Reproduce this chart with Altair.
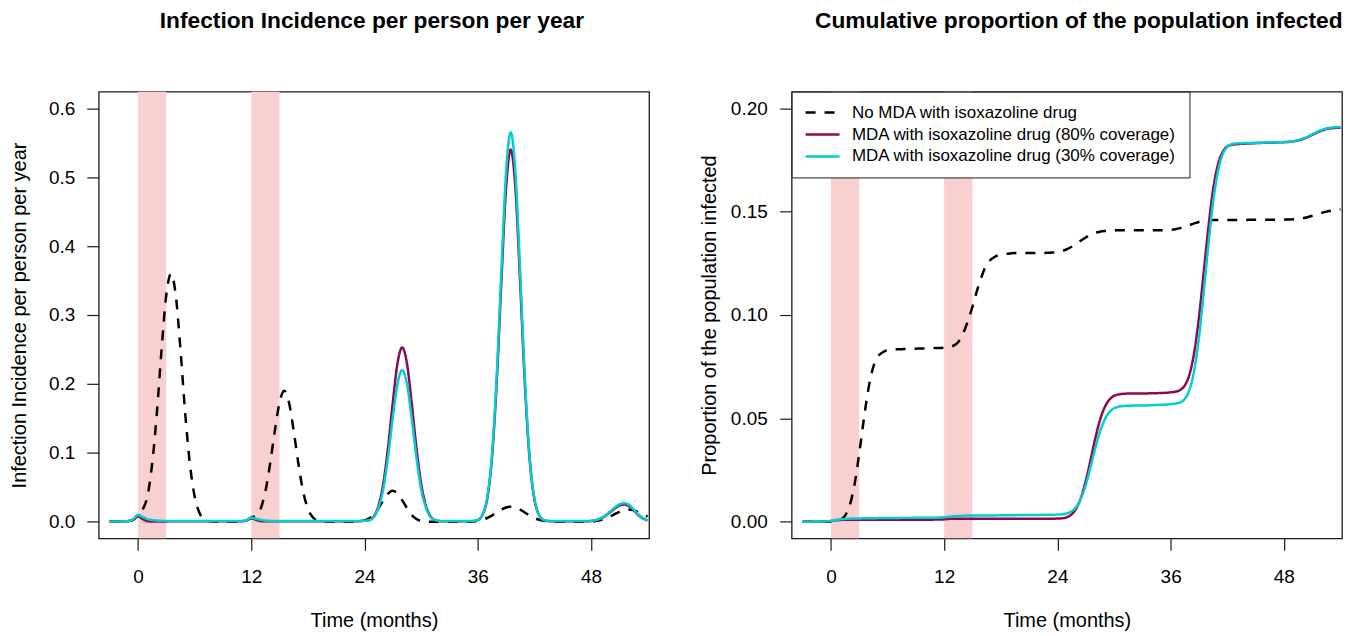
import altair as alt
import pandas as pd

FONT = "Liberation Sans"

# ---------------- data ----------------
months = [
    -3, -2.5, -2, -1.5, -1, -0.5, 0, 0.5, 1, 1.5,
    2, 2.5, 3, 3.5, 4, 4.5, 5, 5.5, 6, 6.5,
    7, 7.5, 8, 8.5, 9, 9.5, 10, 10.5, 11, 11.5,
    12, 12.5, 13, 13.5, 14, 14.5, 15, 15.5, 16, 16.5,
    17, 17.5, 18, 18.5, 19, 19.5, 20, 20.5, 21, 21.5,
    22, 22.5, 23, 23.5, 24, 24.5, 25, 25.5, 26, 26.5,
    27, 27.5, 28, 28.5, 29, 29.5, 30, 30.5, 31, 31.5,
    32, 32.5, 33, 33.5, 34, 34.5, 35, 35.5, 36, 36.5,
    37, 37.5, 38, 38.5, 39, 39.5, 40, 40.5, 41, 41.5,
    42, 42.5, 43, 43.5, 44, 44.5, 45, 45.5, 46, 46.5,
    47, 47.5, 48, 48.5, 49, 49.5, 50, 50.5, 51, 51.5,
    52, 52.5, 53, 53.5, 54,
]

# Infection incidence per person per year
inc_none = [
    0.0005, 0.0005, 0.0005, 0.0007, 0.001, 0.003, 0.01, 0.018, 0.037, 0.084,
    0.158, 0.25, 0.329, 0.36, 0.329, 0.25, 0.158, 0.084, 0.037, 0.0135,
    0.004, 0.001, 0.0003, 0, 0, 0, 0, 0, 0.0003, 0.002,
    0.006, 0.009, 0.019, 0.044, 0.084, 0.132, 0.173, 0.19, 0.173, 0.132,
    0.084, 0.044, 0.019, 0.007, 0.002, 0.0005, 0, 0, 0, 0,
    0, 0, 0.0003, 0.001, 0.002, 0.005, 0.01, 0.02, 0.031, 0.041,
    0.045, 0.041, 0.031, 0.02, 0.01, 0.004, 0.001, 0, 0, 0,
    0, 0, 0, 0, 0, 0, 0.0002, 0.0006, 0.0015, 0.003,
    0.0055, 0.009, 0.0134, 0.0176, 0.0208, 0.022, 0.0208, 0.0176, 0.0134, 0.009,
    0.0055, 0.003, 0.0015, 0.0006, 0.0002, 0, 0, 0, 0, 0,
    0, 0.0002, 0.0005, 0.0012, 0.0024, 0.0045, 0.0074, 0.011, 0.0144, 0.017,
    0.018, 0.017, 0.0144, 0.011, 0.0074,
]
inc_80 = [
    0.0005, 0.0005, 0.0005, 0.0006, 0.001, 0.003, 0.008, 0.004, 0.001, 0.0004,
    0.0004, 0.0005, 0.0006, 0.0007, 0.0008, 0.0008, 0.0008, 0.0008, 0.0008, 0.0008,
    0.0008, 0.0008, 0.0008, 0.0008, 0.0008, 0.0008, 0.0008, 0.0008, 0.0008, 0.002,
    0.005, 0.003, 0.001, 0.0008, 0.0008, 0.0008, 0.0008, 0.0008, 0.0008, 0.0008,
    0.0008, 0.0008, 0.0008, 0.0008, 0.0008, 0.0008, 0.0008, 0.0008, 0.0008, 0.0008,
    0.0008, 0.0008, 0.0008, 0.001, 0.0015, 0.0025, 0.008, 0.024, 0.056, 0.108,
    0.173, 0.23, 0.253, 0.23, 0.173, 0.108, 0.056, 0.024, 0.008, 0.0025,
    0.001, 0.0008, 0.0008, 0.0008, 0.0008, 0.0008, 0.0008, 0.001, 0.0025, 0.01,
    0.033, 0.091, 0.199, 0.346, 0.483, 0.54, 0.483, 0.346, 0.199, 0.091,
    0.033, 0.01, 0.0025, 0.001, 0.0008, 0.0008, 0.0008, 0.0008, 0.0008, 0.0008,
    0.0008, 0.0008, 0.0012, 0.0022, 0.0045, 0.0083, 0.0134, 0.019, 0.0235, 0.025,
    0.023, 0.017, 0.01, 0.005, 0.002,
]
inc_30 = [
    0.0005, 0.0005, 0.0005, 0.0007, 0.0012, 0.004, 0.01, 0.007, 0.004, 0.0025,
    0.0018, 0.0015, 0.0012, 0.001, 0.001, 0.001, 0.001, 0.001, 0.001, 0.001,
    0.001, 0.001, 0.001, 0.001, 0.001, 0.001, 0.001, 0.001, 0.001, 0.0025,
    0.006, 0.0045, 0.003, 0.002, 0.0015, 0.0012, 0.001, 0.001, 0.001, 0.001,
    0.001, 0.001, 0.001, 0.001, 0.001, 0.001, 0.001, 0.001, 0.001, 0.001,
    0.001, 0.001, 0.001, 0.0012, 0.0015, 0.0025, 0.007, 0.021, 0.048, 0.094,
    0.151, 0.2, 0.22, 0.2, 0.151, 0.094, 0.048, 0.021, 0.007, 0.0025,
    0.0012, 0.001, 0.001, 0.001, 0.001, 0.001, 0.001, 0.0012, 0.0027, 0.01,
    0.035, 0.095, 0.208, 0.362, 0.506, 0.565, 0.506, 0.362, 0.208, 0.095,
    0.035, 0.01, 0.0027, 0.0012, 0.001, 0.001, 0.001, 0.001, 0.001, 0.001,
    0.001, 0.001, 0.0014, 0.0025, 0.0048, 0.009, 0.0145, 0.0205, 0.0252, 0.027,
    0.025, 0.0185, 0.011, 0.0055, 0.0022,
]

# Cumulative proportion of the population infected
cum_none = [
    0, 0, 0, 0, 0, 0, 0.0002, 0.0005, 0.001, 0.003,
    0.008, 0.018, 0.033, 0.05, 0.065, 0.075, 0.08, 0.082, 0.083, 0.0832,
    0.0834, 0.0835, 0.0836, 0.0837, 0.0837, 0.0838, 0.0838, 0.0839, 0.084, 0.084,
    0.0842, 0.0845, 0.0852, 0.087, 0.091, 0.097, 0.104, 0.112, 0.119, 0.1245,
    0.127, 0.1285, 0.129, 0.1295, 0.1298, 0.13, 0.13, 0.13, 0.13, 0.13,
    0.13, 0.13, 0.1301, 0.1302, 0.1305, 0.131, 0.1318, 0.133, 0.1345, 0.136,
    0.1375, 0.139, 0.1398, 0.1403, 0.1406, 0.1408, 0.1409, 0.141, 0.141, 0.141,
    0.141, 0.141, 0.141, 0.141, 0.141, 0.141, 0.141, 0.1411, 0.1412, 0.1415,
    0.142, 0.1427, 0.1435, 0.1443, 0.145, 0.1454, 0.1457, 0.1459, 0.146, 0.146,
    0.146, 0.146, 0.146, 0.146, 0.146, 0.1461, 0.1461, 0.1461, 0.1461, 0.1461,
    0.1461, 0.1461, 0.1462, 0.1462, 0.1463, 0.1465, 0.1468, 0.1473, 0.148, 0.1487,
    0.1494, 0.15, 0.1504, 0.1507, 0.151,
]
cum_80 = [
    0, 0, 0, 0.0001, 0.0001, 0.0002, 0.0004, 0.0007, 0.0009, 0.001,
    0.001, 0.001, 0.001, 0.001, 0.001, 0.001, 0.001, 0.001, 0.001, 0.001,
    0.001, 0.001, 0.001, 0.001, 0.001, 0.001, 0.001, 0.001, 0.0011, 0.0011,
    0.0012, 0.0014, 0.0015, 0.0015, 0.0015, 0.0015, 0.0015, 0.0015, 0.0015, 0.0015,
    0.0015, 0.0015, 0.0015, 0.0015, 0.0015, 0.0015, 0.0015, 0.0015, 0.0015, 0.0015,
    0.0015, 0.0015, 0.0015, 0.0015, 0.0016, 0.0017, 0.0022, 0.0036, 0.0065, 0.0117,
    0.0197, 0.0296, 0.04, 0.049, 0.0553, 0.059, 0.0609, 0.0616, 0.0619, 0.062,
    0.062, 0.062, 0.0621, 0.0621, 0.0622, 0.0622, 0.0623, 0.0624, 0.0626, 0.0629,
    0.0637, 0.066, 0.0713, 0.082, 0.0987, 0.1204, 0.1423, 0.1606, 0.1725, 0.1787,
    0.1815, 0.1823, 0.1826, 0.1828, 0.1829, 0.183, 0.1831, 0.1832, 0.1833, 0.1833,
    0.1834, 0.1835, 0.1836, 0.1837, 0.184, 0.1844, 0.1851, 0.186, 0.1871, 0.1882,
    0.1892, 0.1899, 0.1903, 0.1905, 0.1906,
]
cum_30 = [
    0, 0, 0, 0.0001, 0.0001, 0.0002, 0.0005, 0.0009, 0.0012, 0.0014,
    0.0015, 0.0016, 0.0016, 0.0017, 0.0017, 0.0017, 0.0018, 0.0018, 0.0018, 0.0018,
    0.0018, 0.0019, 0.0019, 0.0019, 0.002, 0.002, 0.002, 0.002, 0.002, 0.0021,
    0.0022, 0.0025, 0.0027, 0.0028, 0.0029, 0.003, 0.003, 0.003, 0.0031, 0.0031,
    0.0031, 0.0031, 0.0032, 0.0032, 0.0032, 0.0032, 0.0033, 0.0033, 0.0033, 0.0033,
    0.0033, 0.0034, 0.0034, 0.0034, 0.0035, 0.0036, 0.0041, 0.0051, 0.0072, 0.0114,
    0.0178, 0.0263, 0.0353, 0.0434, 0.0493, 0.053, 0.0549, 0.0557, 0.056, 0.0561,
    0.0562, 0.0562, 0.0563, 0.0563, 0.0564, 0.0565, 0.0566, 0.0567, 0.0569, 0.0572,
    0.0577, 0.0594, 0.0639, 0.0733, 0.0891, 0.1106, 0.1339, 0.1545, 0.1691, 0.1775,
    0.1813, 0.1827, 0.183, 0.1831, 0.1832, 0.1832, 0.1833, 0.1833, 0.1834, 0.1834,
    0.1835, 0.1835, 0.1836, 0.1838, 0.1841, 0.1846, 0.1853, 0.1862, 0.1874, 0.1885,
    0.1895, 0.1902, 0.1906, 0.1908, 0.1909,
]

series_names = [
    "No MDA with isoxazoline drug",
    "MDA with isoxazoline drug (80% coverage)",
    "MDA with isoxazoline drug (30% coverage)",
]
series_colors = ["#000000", "#8B0A50", "#00CED1"]
series_dash = [[10, 9], [1, 0], [1, 0]]

mda_start = [0, 12]
mda_end = [3, 15]

x_ticks = [0, 12, 24, 36, 48]
inc_ticks = [0, 0.1, 0.2, 0.3, 0.4, 0.5, 0.6]
cum_ticks = [0, 0.05, 0.1, 0.15, 0.2]

for arr in (inc_none, inc_80, inc_30, cum_none, cum_80, cum_30):
    assert len(arr) == len(months), len(arr)


def long_frame(series_values):
    rows = []
    for name, vals in zip(series_names, series_values):
        for t, v in zip(months, vals):
            rows.append({"month": t, "value": v, "series": name})
    return pd.DataFrame(rows)


inc_df = long_frame([inc_none, inc_80, inc_30])
cum_df = long_frame([cum_none, cum_80, cum_30])
mda_df = pd.DataFrame({"start": mda_start, "end": mda_end})

W, H = 552, 448
x_scale = alt.Scale(domain=[-4.16, 54.16], nice=False, zero=False)
x_axis = alt.Axis(values=x_ticks, format="d", title="Time (months)",
                  labelPadding=17, titlePadding=24)


def panel(df, title, y_domain, y_ticks, y_fmt, y_title, title_pad,
          label_pad, legend, title_dx):
    band = alt.Chart(mda_df).mark_rect(color="#F8D0D0").encode(
        x=alt.X("start:Q", scale=x_scale, axis=x_axis),
        x2="end:Q",
    )
    lines = alt.Chart(df).mark_line(
        strokeWidth=2.5, interpolate="monotone", clip=True
    ).encode(
        x=alt.X("month:Q", scale=x_scale, axis=x_axis),
        y=alt.Y("value:Q",
                scale=alt.Scale(domain=y_domain, nice=False, zero=False),
                axis=alt.Axis(values=y_ticks, format=y_fmt, title=y_title,
                              labelPadding=label_pad, titlePadding=title_pad)),
        color=alt.Color("series:N",
                        scale=alt.Scale(domain=series_names, range=series_colors),
                        legend=legend),
        strokeDash=alt.StrokeDash("series:N",
                                  scale=alt.Scale(domain=series_names, range=series_dash),
                                  legend=legend),
    )
    return alt.layer(band, lines).properties(
        width=W, height=H,
        title=alt.TitleParams(text=title, font=FONT, fontSize=22.8,
                              fontWeight="bold", color="black", anchor="middle",
                              frame="group", baseline="alphabetic", offset=41,
                              dx=title_dx),
    )


right_legend = alt.Legend(
    title=None, orient="top-left", offset=0, padding=12.5,
    strokeColor="#1a1a1a", fillColor="white", cornerRadius=0,
    labelFont=FONT, labelFontSize=17, labelColor="black", labelLimit=600,
    symbolType="M-3.4,0L3.4,0", symbolSize=100, symbolStrokeWidth=2.5,
    symbolOffset=10, labelOffset=21, rowPadding=4,
)

left = panel(inc_df, "Infection Incidence per person per year",
             [-0.024, 0.624], inc_ticks, ".1f",
             "Infection Incidence per person per year", 19, 12, None, -2)
right = panel(cum_df, "Cumulative proportion of the population infected",
              [-0.008, 0.208], cum_ticks, ".2f",
              "Proportion of the population infected", 11, 12.5,
              right_legend, 12)

chart = alt.hconcat(left, right, spacing=48).resolve_scale(
    color="independent", strokeDash="independent"
).resolve_legend(
    color="independent", strokeDash="independent"
).properties(
    padding={"left": 0, "top": 0, "right": 0, "bottom": 0}
).configure(
    font=FONT
).configure_view(
    stroke="#1a1a1a", strokeWidth=1.3
).configure_axis(
    labelFont=FONT, titleFont=FONT, labelFontSize=19, titleFontSize=20,
    titleFontWeight="normal", labelColor="black", titleColor="black",
    tickColor="#1a1a1a", tickSize=12, tickWidth=1.2, domain=False, grid=False,
)

chart.save("out.html", embed_options={"renderer": "svg", "actions": False})
